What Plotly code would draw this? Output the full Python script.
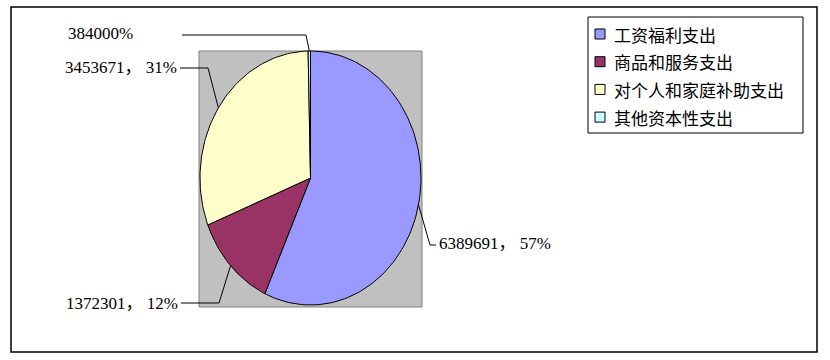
import numpy as np
import plotly.graph_objects as go

# ---- data ----
categories = ["工资福利支出", "商品和服务支出", "对个人和家庭补助支出", "其他资本性支出"]
values = [6389691, 1372301, 3453671, 38400]
colors = ["#9999FF", "#993366", "#FFFFCC", "#CCFFFF"]
label_texts = ["6389691， 57%", "1372301， 12%", "3453671， 31%", "384000%"]

# ---- layout constants (pixel space) ----
W, H = 830, 360
CX, CY, RX, RY = 310.5, 178.0, 110.5, 127.0
label_elbow = [(430, 245), (219, 303), (208, 68), (306, 35)]
label_end = [(436, 245), (181, 303), (180, 68), (182, 35)]
label_pos = [(437, 243, "left"), (180, 303, "right"), (179, 67, "right"), (135, 33, "right")]
FONT = "Liberation Serif, Noto Sans CJK SC, serif"
CJK_FONT = "Noto Sans CJK SC, sans-serif"

total = float(sum(values))
fracs = [v / total for v in values]
cum = np.concatenate([[0.0], np.cumsum(fracs)])


def ell(theta):
    return CX + RX * np.sin(theta), CY - RY * np.cos(theta)


fig = go.Figure()

for i, (cat, col) in enumerate(zip(categories, colors)):
    a0, a1 = cum[i] * 2 * np.pi, cum[i + 1] * 2 * np.pi
    n = max(3, int((a1 - a0) / (2 * np.pi) * 240))
    th = np.linspace(a0, a1, n)
    ex, ey = ell(th)
    xs = np.concatenate([[CX], ex, [CX]])
    ys = np.concatenate([[CY], ey, [CY]])
    fig.add_trace(go.Scatter(x=xs, y=ys, mode="lines", fill="toself", fillcolor=col,
                             line=dict(color="black", width=1), showlegend=False,
                             hoverinfo="text", text=cat))

# leader lines + labels
for i, txt in enumerate(label_texts):
    mid = (cum[i] + cum[i + 1]) / 2 * 2 * np.pi
    px, py = ell(mid)
    fig.add_trace(go.Scatter(x=[px, label_elbow[i][0], label_end[i][0]],
                             y=[py, label_elbow[i][1], label_end[i][1]],
                             mode="lines", line=dict(color="black", width=1),
                             showlegend=False, hoverinfo="skip"))
    lx, ly, anc = label_pos[i]
    fig.add_annotation(x=lx, y=ly, text=txt, showarrow=False, xanchor=anc, yanchor="middle",
                       font=dict(family=FONT, size=17, color="black"))

# legend (manual, Excel-like)
LEG_X0, LEG_Y0, LEG_X1, LEG_Y1 = 588, 17, 803, 133
leg_y = [34 + i * 27.7 for i in range(len(categories))]
fig.add_shape(type="rect", x0=LEG_X0, x1=LEG_X1, y0=LEG_Y0, y1=LEG_Y1, xref="x", yref="y",
              line=dict(color="black", width=1), fillcolor="white", layer="below")
fig.add_trace(go.Scatter(x=[600] * len(categories), y=leg_y, mode="markers",
                         marker=dict(symbol="square", size=10, color=colors,
                                     line=dict(color="black", width=1)),
                         showlegend=False, hoverinfo="text", text=categories))
for cat, y in zip(categories, leg_y):
    fig.add_annotation(x=612, y=y, text=cat, showarrow=False, xanchor="left", yanchor="middle",
                       font=dict(family=CJK_FONT, size=17, color="black"))

# plot area (gray) and chart border
fig.add_shape(type="rect", x0=199, x1=422, y0=51, y1=307, xref="x", yref="y",
              line=dict(color="#808080", width=1), fillcolor="#C0C0C0", layer="below")
fig.add_shape(type="rect", x0=11, x1=817, y0=7, y1=352, xref="x", yref="y",
              line=dict(color="black", width=1.5), fillcolor="rgba(0,0,0,0)", layer="below")

fig.update_xaxes(range=[0, W], visible=False, fixedrange=True)
fig.update_yaxes(range=[H, 0], visible=False, fixedrange=True)
fig.update_layout(width=W, height=H, margin=dict(l=0, r=0, t=0, b=0),
                  plot_bgcolor="white", paper_bgcolor="white", showlegend=False)

fig.write_html("out.html")
